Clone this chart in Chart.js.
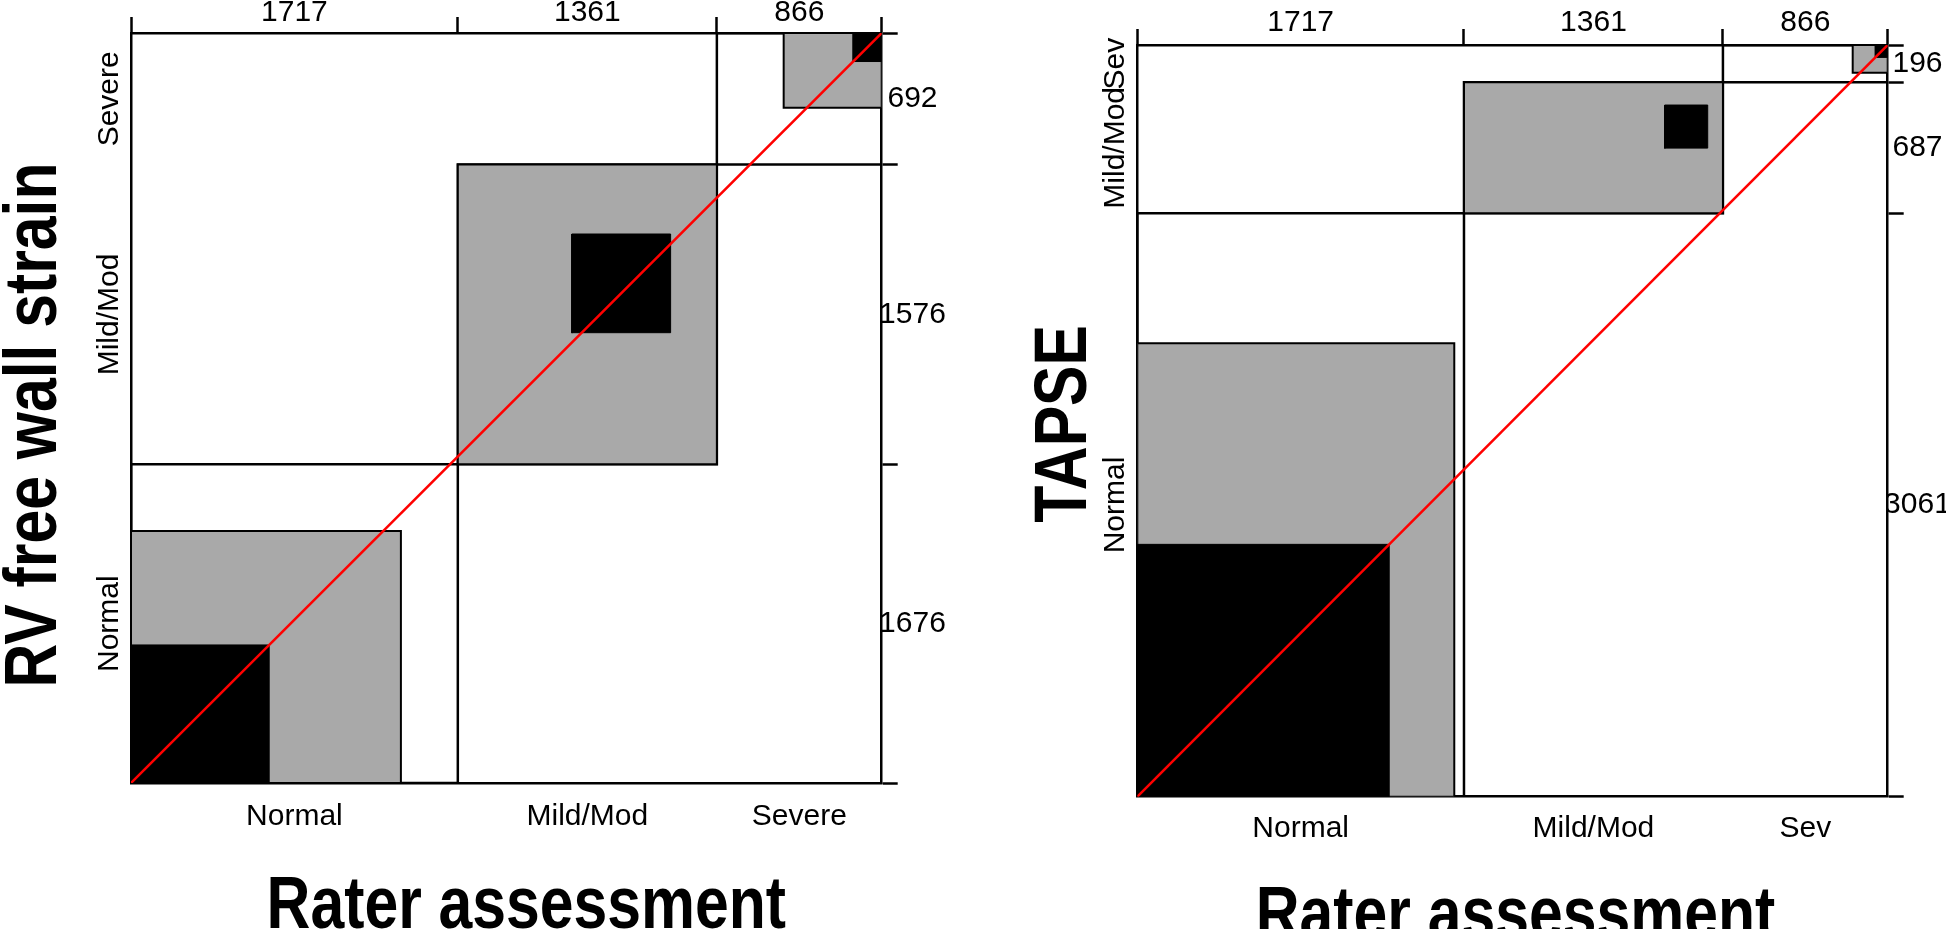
<!DOCTYPE html>
<html lang="en">
<head>
<meta charset="UTF-8" />
<title>Agreement charts</title>
<script src="https://cdn.jsdelivr.net/npm/chart.js"></script>
<style>
  body { margin: 0; background: #fff; }
  #wrap { display: flex; width: 1946px; height: 929px; }
  canvas { display: block; }
</style>
</head>
<body>
<div id="wrap">
  <canvas id="rvChart" width="973" height="929"></canvas>
  <canvas id="tapseChart" width="973" height="929"></canvas>
</div>
<script>
  // rater assessment = columns (x axis)
  const raterCats = ['Normal', 'Mild/Mod', 'Severe'];
  const raterCatsShort = ['Normal', 'Mild/Mod', 'Sev'];

  // RV free wall strain category = rows (y axis), counts per rater column
  const rvCats = ['Normal', 'Mild/Mod', 'Severe'];
  const rvNormal = [726, 599, 351];
  const rvMild = [692, 519, 365];
  const rvSevere = [299, 243, 150];

  // TAPSE category = rows
  const tapseCats = ['Normal', 'Mild/Mod', 'Sev'];
  const tapseNormal = [1324, 1055, 682];
  const tapseMild = [342, 226, 119];
  const tapseSevere = [51, 80, 65];

  const FONT = "'Liberation Sans', Arial, Helvetica, sans-serif";
  const GRAY = '#a9a9a9';

  function cumsum(a) {
    const out = [0];
    a.forEach(v => out.push(out[out.length - 1] + v));
    return out;
  }
  function mids(c) {
    return c.slice(0, -1).map((v, i) => (v + c[i + 1]) / 2);
  }
  function rect(xa, xb, ya, yb) {
    return [{x: xa, y: ya}, {x: xb, y: ya}, {x: xb, y: yb}, {x: xa, y: yb}, {x: xa, y: ya}];
  }
  function sumRange(arr, from, to) {
    let s = 0;
    for (let k = Math.max(0, from); k <= Math.min(arr.length - 1, to); k++) s += arr[k];
    return s;
  }

  // rotated row names on the left + the two bold (narrow) axis titles
  const extraText = {
    id: 'extraText',
    afterDraw(chart, args, opts) {
      const {ctx, chartArea, scales} = chart;
      ctx.save();
      ctx.fillStyle = '#000';
      ctx.font = '30px ' + FONT;
      ctx.textAlign = 'center';
      ctx.textBaseline = 'middle';
      opts.names.forEach((name, i) => {
        ctx.save();
        ctx.translate(chartArea.left - 21.5, scales.y.getPixelForValue(opts.centers[i]));
        ctx.rotate(-Math.PI / 2);
        ctx.fillText(name, 0, 0);
        ctx.restore();
      });

      ctx.font = 'bold 74px ' + FONT;
      ctx.textBaseline = 'alphabetic';
      // x title
      ctx.save();
      ctx.translate((chartArea.left + chartArea.right) / 2 + opts.xTitleShift, opts.xTitleBase);
      ctx.scale(opts.narrow, 1);
      ctx.fillText(opts.xTitle, 0, 0);
      ctx.restore();
      // y title
      ctx.save();
      ctx.translate(opts.yTitleBase, (chartArea.top + chartArea.bottom) / 2 + opts.yTitleShift);
      ctx.rotate(-Math.PI / 2);
      ctx.scale(opts.narrow, 1);
      ctx.fillText(opts.yTitle, 0, 0);
      ctx.restore();
      ctx.restore();
    }
  };

  function agreementChart(id, rows, rowNames, colNames, yTitle, box) {
    const k = rows.length;
    const colTot = colNames.map((_, j) => rows.reduce((s, r) => s + r[j], 0));
    const rowTot = rows.map(r => r.reduce((s, v) => s + v, 0));
    const N = colTot.reduce((s, v) => s + v, 0);
    const xs = cumsum(colTot), ys = cumsum(rowTot);
    const xMid = mids(xs), yMid = mids(ys);

    const datasets = [];
    const base = {showLine: true, pointRadius: 0, pointHoverRadius: 0, tension: 0, borderCapStyle: 'square'};

    datasets.push(Object.assign({}, base, {
      data: [{x: 0, y: 0}, {x: N, y: N}],
      borderColor: '#ff0000', borderWidth: 2.5, borderCapStyle: 'butt', fill: false, order: 1
    }));

    for (let i = 0; i < k; i++) {
      const col = rows.map(r => r[i]);   // column i, ordered by row category
      const row = rows[i];               // row i, ordered by column category
      // exact agreement
      const bx = xs[i] + sumRange(col, 0, i - 1);
      const by = ys[i] + sumRange(row, 0, i - 1);
      datasets.push(Object.assign({}, base, {
        data: rect(bx, bx + rows[i][i], by, by + rows[i][i]),
        borderColor: '#000', borderWidth: 1, backgroundColor: '#000', fill: 'shape', order: 2
      }));
      // partial agreement (one step apart)
      const gx0 = xs[i] + sumRange(col, 0, i - 2);
      const gx1 = xs[i] + sumRange(col, 0, i + 1);
      const gy0 = ys[i] + sumRange(row, 0, i - 2);
      const gy1 = ys[i] + sumRange(row, 0, i + 1);
      datasets.push(Object.assign({}, base, {
        data: rect(gx0, gx1, gy0, gy1),
        borderColor: '#000', borderWidth: 2, backgroundColor: GRAY, fill: 'shape', order: 3
      }));
      // marginal rectangle
      datasets.push(Object.assign({}, base, {
        data: rect(xs[i], xs[i + 1], ys[i], ys[i + 1]),
        borderColor: '#000', borderWidth: 2.5, fill: false, order: 4
      }));
    }

    const xTopTicks = [];
    xs.forEach((v, i) => { xTopTicks.push(v); if (i < k) xTopTicks.push(xMid[i]); });
    const yRightTicks = [];
    ys.forEach((v, i) => { yRightTicks.push(v); if (i < k) yRightTicks.push(yMid[i]); });
    const tickFont = {family: FONT, size: 30};
    const hideOdd = c => (c.index % 2 ? 'rgba(0,0,0,0)' : '#000');
    const edge = {display: true, color: '#000', width: 2.5};

    return new Chart(document.getElementById(id), {
      type: 'scatter',
      data: {datasets},
      plugins: [extraText],
      options: {
        responsive: false,
        animation: false,
        events: [],
        layout: {padding: 0},
        plugins: {
          legend: {display: false},
          tooltip: {enabled: false},
          extraText: {names: rowNames, centers: yMid, xTitle: 'Rater assessment', yTitle: yTitle,
                      narrow: 0.82, xTitleShift: box.xTitleShift, xTitleBase: box.xTitleBase,
                      yTitleShift: box.yTitleShift, yTitleBase: box.yTitleBase}
        },
        scales: {
          x: {
            type: 'linear', position: 'bottom', min: 0, max: N,
            afterBuildTicks: s => { s.ticks = xMid.map(v => ({value: v})); },
            afterFit: s => { s.height = box.bottom; },
            ticks: {autoSkip: false, maxRotation: 0, padding: box.bottomPad, color: '#000', font: tickFont,
                    callback: (v, i) => colNames[i]},
            grid: {display: false, drawTicks: false},
            border: edge
          },
          xTop: {
            type: 'linear', position: 'top', min: 0, max: N,
            afterBuildTicks: s => { s.ticks = xTopTicks.map(v => ({value: v})); },
            afterFit: s => { s.height = box.top; },
            ticks: {autoSkip: false, maxRotation: 0, padding: box.topPad, color: '#000', font: tickFont,
                    callback: (v, i) => (i % 2 ? String(colTot[(i - 1) / 2]) : '')},
            grid: {display: true, drawOnChartArea: false, drawTicks: true, tickLength: 16,
                   tickWidth: 2.5, tickColor: hideOdd},
            border: edge
          },
          y: {
            type: 'linear', position: 'left', min: 0, max: N,
            afterFit: s => { s.width = box.left; },
            ticks: {display: false},
            grid: {display: false, drawTicks: false},
            border: edge
          },
          yRight: {
            type: 'linear', position: 'right', min: 0, max: N,
            afterBuildTicks: s => { s.ticks = yRightTicks.map(v => ({value: v})); },
            afterFit: s => { s.width = box.right; },
            ticks: {autoSkip: false, crossAlign: 'center', padding: box.rightPad, color: '#000', font: tickFont,
                    callback: (v, i) => (i % 2 ? String(rowTot[(i - 1) / 2]) : '')},
            grid: {display: true, drawOnChartArea: false, drawTicks: true, tickLength: 16,
                   tickWidth: 2.5, tickColor: hideOdd},
            border: edge
          }
        }
      }
    });
  }

  agreementChart('rvChart', [rvNormal, rvMild, rvSevere], rvCats, raterCats, 'RV free wall strain',
    {top: 33, bottom: 146, left: 131, right: 91.3, topPad: -14, rightPad: -18.6, bottomPad: 16,
     xTitleShift: 20, xTitleBase: 928, yTitleShift: 17, yTitleBase: 56});

  agreementChart('tapseChart', [tapseNormal, tapseMild, tapseSevere], tapseCats, raterCatsShort, 'TAPSE',
    {top: 45, bottom: 132.3, left: 164.3, right: 58.3, topPad: -12, rightPad: -19.6, bottomPad: 14,
     xTitleShift: 3, xTitleBase: 938, yTitleShift: 3, yTitleBase: 113});
</script>
</body>
</html>
